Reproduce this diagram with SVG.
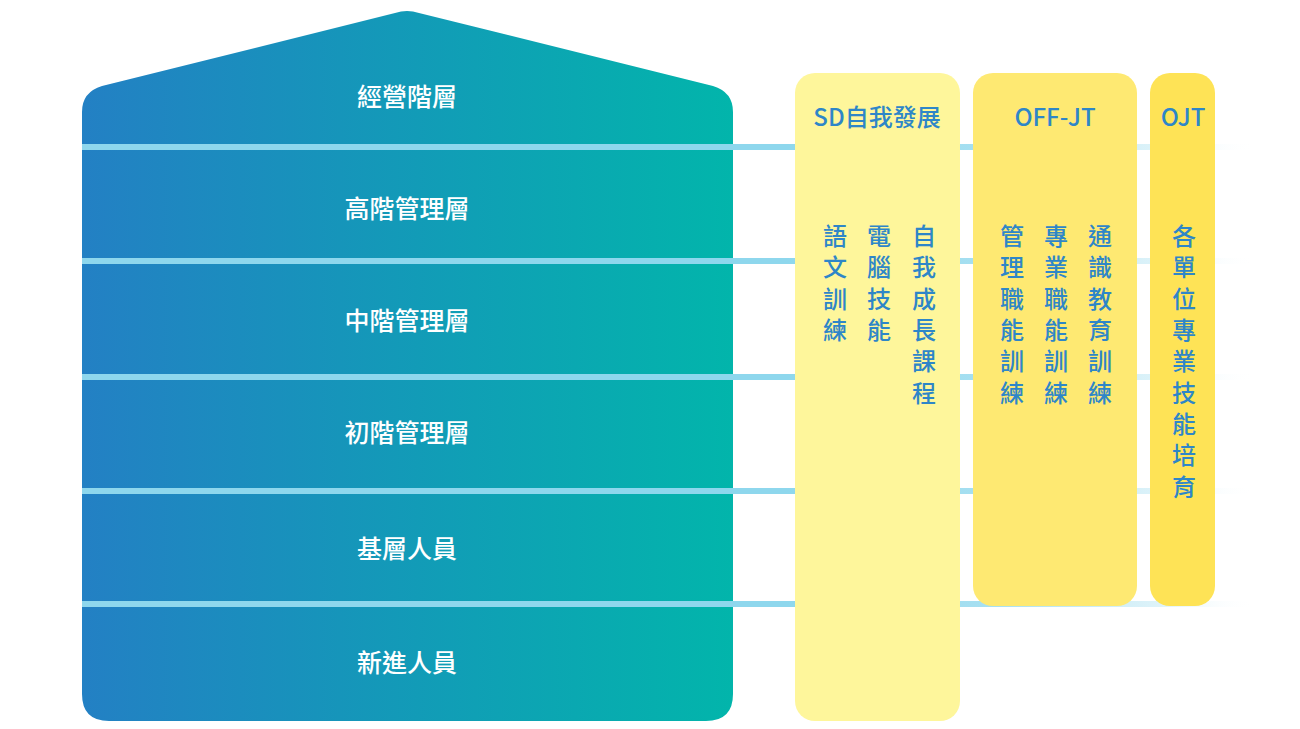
<svg xmlns="http://www.w3.org/2000/svg" width="1300" height="729" viewBox="0 0 1300 729">
<defs>
<linearGradient id="houseGrad" x1="0" y1="0" x2="1" y2="0">
<stop offset="0" stop-color="#2380C4"/>
<stop offset="1" stop-color="#02B5AB"/>
</linearGradient>
<linearGradient id="lineGrad" gradientUnits="userSpaceOnUse" x1="82" y1="0" x2="1255" y2="0">
<stop offset="0" stop-color="#8ED7ED"/>
<stop offset="0.6" stop-color="#8ED7ED"/>
<stop offset="0.78" stop-color="#A8E0F1"/>
<stop offset="0.92" stop-color="#D6F0F8" stop-opacity="0.8"/>
<stop offset="1" stop-color="#FFFFFF" stop-opacity="0"/>
</linearGradient>
<style>
.lvl{font-family:"Noto Sans CJK TC","Noto Sans CJK SC",sans-serif;font-size:25px;font-weight:500;fill:#FFFFFF;text-anchor:middle}
.ttl{font-family:"Noto Sans CJK TC","Noto Sans CJK SC",sans-serif;font-size:24px;font-weight:500;fill:#2E86C8;text-anchor:middle}
.vt{font-family:"Noto Sans CJK TC","Noto Sans CJK SC",sans-serif;font-size:24px;font-weight:500;fill:#2E86C8;writing-mode:vertical-rl;letter-spacing:7.3px}
.ln{stroke:url(#lineGrad);stroke-width:6;fill:none}
</style>
</defs>
<g id="house">
<path d="M82,112 Q82,92 102,86 L395,13 Q407,9 419,13 L713,86 Q733,92 733,112 L733,694 Q733,721 706,721 L109,721 Q82,721 82,694 Z" fill="url(#houseGrad)"/>
</g>
<g id="connectors">
<line class="ln" x1="82" y1="147" x2="1255" y2="147"/>
<line class="ln" x1="82" y1="261" x2="1255" y2="261"/>
<line class="ln" x1="82" y1="377" x2="1255" y2="377"/>
<line class="ln" x1="82" y1="491" x2="1255" y2="491"/>
<line class="ln" x1="82" y1="604" x2="1255" y2="604"/>
</g>
<g id="levels">
<text class="lvl" x="407" y="106">經營階層</text>
<text class="lvl" x="407" y="218">高階管理層</text>
<text class="lvl" x="407" y="330">中階管理層</text>
<text class="lvl" x="407" y="442">初階管理層</text>
<text class="lvl" x="407" y="558">基層人員</text>
<text class="lvl" x="407" y="672">新進人員</text>
</g>
<g id="sd">
<rect x="795" y="73" width="165" height="648" rx="20" fill="#FEF69B"/>
<text class="ttl" x="877" y="126">SD自我發展</text>
<text class="vt" x="835" y="224">語文訓練</text>
<text class="vt" x="879" y="224">電腦技能</text>
<text class="vt" x="924" y="224">自我成長課程</text>
</g>
<g id="offjt">
<rect x="973" y="73" width="164" height="533" rx="20" fill="#FEE972"/>
<text class="ttl" x="1055" y="126">OFF-JT</text>
<text class="vt" x="1012" y="224">管理職能訓練</text>
<text class="vt" x="1056" y="224">專業職能訓練</text>
<text class="vt" x="1100" y="224">通識教育訓練</text>
</g>
<g id="ojt">
<rect x="1150" y="73" width="65" height="533" rx="20" fill="#FEE356"/>
<text class="ttl" x="1183" y="126">OJT</text>
<text class="vt" x="1184" y="224">各單位專業技能培育</text>
</g>
</svg>
